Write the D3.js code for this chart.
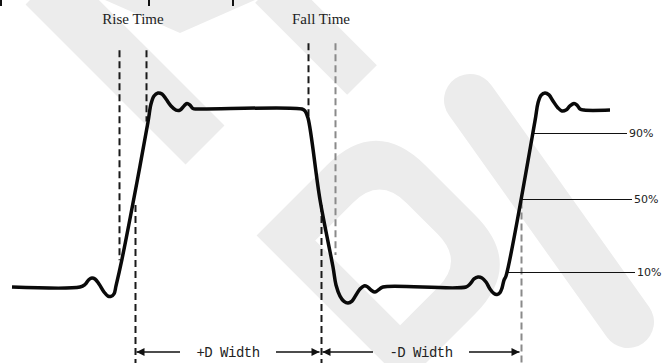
<!DOCTYPE html>
<html>
<head>
<meta charset="utf-8">
<script src="https://cdn.jsdelivr.net/npm/d3@7"></script>
<style>
  html, body { margin: 0; padding: 0; background: #ffffff; }
  svg { display: block; }
</style>
</head>
<body>
<svg id="chart" width="672" height="363"></svg>
<script>
// waveform samples: time (ns) and level (% of high level)
var waveT = [0, 13.6, 14.6, 15.4, 16, 16.6, 17.4, 18.4, 19.2, 19.8, 20.4, 20.8, 22, 25, 27.2, 27.8, 28.4, 29.2, 30, 30.8, 31.8, 32.8, 33.6, 34.4, 35, 35.6, 36.2, 37,
  58, 58.6, 59.2, 61.6, 64.2, 64.8, 65.6, 66.4, 67.2, 68, 68.8, 69.6, 70.4, 71, 71.8, 72.6, 73.4, 74.2,
  90.8, 91.6, 92.4, 93.2, 94, 94.8, 95.6, 96.4, 97, 97.6, 98, 98.4, 98.8, 104.6, 105.2, 105.8, 106.6, 107.4, 108.2, 109.2, 110, 110.8, 111.6, 112.4, 113, 113.6, 114.4, 119.6];
var waveV = [0, 0, 1.4, 4.2, 5.1, 4.5, 1.7, -2.8, -5.1, -5.3, -3.9, 0.6, 15.7, 59, 92.7, 102.8, 107.3, 109, 108.4, 105.6, 101.7, 99.4, 99.4, 101.7, 103.1, 102.2, 100.3, 100,
  100, 98.9, 94.9, 49, 11.2, 1.1, -5.1, -8.1, -9, -7.9, -4.5, -1.1, 0.6, 0.3, -1.7, -2.8, -1.4, 0,
  0, 1.7, 4.5, 5.6, 5.1, 2.8, -1.1, -3.7, -4.2, -3.1, -0.6, 3.9, 6.2, 93.3, 103.4, 107.6, 109, 107.9, 104.5, 100.6, 98.9, 99.4, 101.7, 103.1, 102.2, 100, 99.4, 99.4];

// threshold levels on the last rising edge
var levelNames = ["90%", "50%", "10%"];
var levelValues = [86.5, 49.5, 8.5];

// measurement markers (time, top level, bottom level)
var markerT = [21.4, 26.8, 59.2, 64.6, 24.6, 61.8, 101.8];
var markerTop = [133, 133, 137, 137, 46, 46, 48];
var markerBottom = [15, 93, 94, 18, -43, -43, -43];
var markerTone = ["dark", "dark", "dark", "light", "dark", "dark", "light"];

var timeLabels = ["Rise Time", "Fall Time"];
var timeLabelT = [24.2, 61.8];

var widthLabels = ["+D Width", "-D Width"];
var widthStart = [24.6, 61.8];
var widthEnd = [61.8, 101.8];

// clipped tick stubs at the very top edge
var stubT = [-2.2, 27.4, 44.2];

var svg = d3.select("#chart");
var x = d3.scaleLinear().domain([0, 120]).range([12, 612]);
var y = d3.scaleLinear().domain([0, 100]).range([287, 109]);

// faint watermark behind the drawing
var wmColor = "#ececec";
var wm = svg.append("g").attr("fill", "none").attr("stroke", wmColor);
wm.append("path").attr("d", "M45,-15L205,145").attr("stroke-width", 55);
wm.append("path").attr("d", "M270,-12L362,80").attr("stroke-width", 42);
wm.append("path").attr("d", "M105,0L180,33L255,0Z").attr("fill", wmColor).attr("stroke-width", 0);
wm.append("path").attr("d", "M470,100L628,322").attr("stroke-width", 52).attr("stroke-linecap", "round");
// tilted "D" with its counter
wm.append("path")
  .attr("transform", "translate(270,222) rotate(45)")
  .attr("fill", wmColor).attr("stroke-width", 0).attr("fill-rule", "evenodd")
  .attr("d", "M0,19L210,19L210,-80Q210,-150 140,-150L70,-150Q0,-150 0,-80Z" +
             "M45,-19L165,-19L165,-72Q165,-110 127,-110L83,-110Q45,-110 45,-72Z");

svg.append("g").selectAll("line").data(stubT).enter().append("line")
  .attr("x1", function(d) { return x(d); })
  .attr("x2", function(d) { return x(d); })
  .attr("y1", 0).attr("y2", 6)
  .attr("stroke", "#111").attr("stroke-width", 2);

// dashed markers
svg.append("g").selectAll("line").data(markerT).enter().append("line")
  .attr("x1", function(d) { return Math.round(x(d)) + 0.5; })
  .attr("x2", function(d) { return Math.round(x(d)) + 0.5; })
  .attr("y1", function(d, i) { return y(markerTop[i]); })
  .attr("y2", function(d, i) { return y(markerBottom[i]); })
  .attr("stroke", function(d, i) { return markerTone[i] == "dark" ? "#1a1a1a" : "#8a8a8a"; })
  .attr("stroke-width", 2)
  .attr("stroke-dasharray", "7,4");

// level crossing on the final rising edge
var lastRise = waveT.map(function(t, i) { return { t: t, v: waveV[i] }; }).filter(function(d) { return d.t >= 98 && d.t <= 104.6; });
function crossAt(level) {
  for (var i = 1; i < lastRise.length; i++) {
    var a = lastRise[i - 1], b = lastRise[i];
    if ((a.v - level) * (b.v - level) <= 0) return a.t + (level - a.v) / (b.v - a.v) * (b.t - a.t);
  }
  return lastRise[0].t;
}
var levelLineEnd = [627, 632, 635];

var levels = svg.append("g");
levels.selectAll("line").data(levelValues).enter().append("line")
  .attr("x1", function(d) { return x(crossAt(d)); })
  .attr("x2", function(d, i) { return levelLineEnd[i]; })
  .attr("y1", function(d) { return Math.round(y(d)) + 0.5; })
  .attr("y2", function(d) { return Math.round(y(d)) + 0.5; })
  .attr("stroke", "#111")
  .attr("stroke-width", 1.2);
levels.selectAll("text").data(levelValues).enter().append("text")
  .attr("x", function(d, i) { return levelLineEnd[i] + 2; })
  .attr("y", function(d) { return y(d); })
  .attr("dy", "0.35em")
  .attr("font-family", "DejaVu Sans, sans-serif")
  .attr("font-size", 11)
  .attr("fill", "#222")
  .text(function(d, i) { return levelNames[i]; });

// waveform
var line = d3.line()
  .x(function(d) { return x(d); })
  .y(function(d, i) { return y(waveV[i]); })
  .curve(d3.curveCatmullRom.alpha(0.5));
svg.append("path")
  .attr("d", line(waveT))
  .attr("fill", "none")
  .attr("stroke", "#0a0a0a")
  .attr("stroke-width", 3.5)
  .attr("stroke-linejoin", "round");

// titles
svg.append("g").selectAll("text").data(timeLabels).enter().append("text")
  .attr("x", function(d, i) { return x(timeLabelT[i]); })
  .attr("y", 24)
  .attr("text-anchor", "middle")
  .attr("font-family", "Liberation Serif, serif")
  .attr("font-size", 15)
  .attr("fill", "#222")
  .text(function(d) { return d; });

// width arrows
var defs = svg.append("defs");
defs.append("marker").attr("id", "head").attr("viewBox", "0 0 10 10")
  .attr("refX", 10).attr("refY", 5).attr("markerWidth", 9).attr("markerHeight", 8)
  .attr("markerUnits", "userSpaceOnUse").attr("orient", "auto-start-reverse")
  .append("path").attr("d", "M0,0L10,5L0,10Z").attr("fill", "#111");

var arrowY = 352;
var arrows = svg.append("g");
widthLabels.forEach(function(label, i) {
  var x0 = x(widthStart[i]) + 1.5, x1 = x(widthEnd[i]) - 1.5;
  var mid = (x0 + x1) / 2;
  arrows.append("line").attr("x1", x0).attr("x2", mid - 48).attr("y1", arrowY).attr("y2", arrowY)
    .attr("stroke", "#111").attr("stroke-width", 1.5).attr("marker-start", "url(#head)");
  arrows.append("line").attr("x1", mid + 48).attr("x2", x1).attr("y1", arrowY).attr("y2", arrowY)
    .attr("stroke", "#111").attr("stroke-width", 1.5).attr("marker-end", "url(#head)");
  arrows.append("text").attr("x", mid).attr("y", arrowY).attr("dy", "0.35em")
    .attr("text-anchor", "middle")
    .attr("font-family", "Liberation Mono, monospace")
    .attr("font-size", 14)
    .attr("letter-spacing", -0.5)
    .attr("fill", "#222")
    .text(label);
});
</script>
</body>
</html>
